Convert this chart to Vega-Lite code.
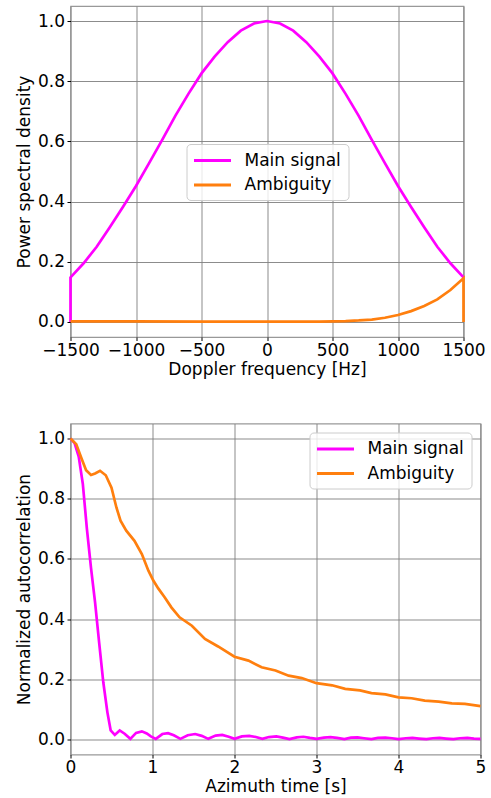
{
  "$schema": "https://vega.github.io/schema/vega-lite/v6.json",
  "padding": {"left": 14.5, "top": 5, "right": 5, "bottom": 2},
  "background": "white",
  "spacing": 44.5,
  "datasets": {
    "psd": [
      {"series": "Main signal", "i": 0, "f": -1500, "v": 0.0},
      {"series": "Main signal", "i": 1, "f": -1500, "v": 0.148},
      {"series": "Main signal", "i": 2, "f": -1400, "v": 0.195},
      {"series": "Main signal", "i": 3, "f": -1300, "v": 0.25},
      {"series": "Main signal", "i": 4, "f": -1200, "v": 0.315},
      {"series": "Main signal", "i": 5, "f": -1100, "v": 0.382},
      {"series": "Main signal", "i": 6, "f": -1000, "v": 0.452},
      {"series": "Main signal", "i": 7, "f": -900, "v": 0.528},
      {"series": "Main signal", "i": 8, "f": -800, "v": 0.605},
      {"series": "Main signal", "i": 9, "f": -700, "v": 0.685},
      {"series": "Main signal", "i": 10, "f": -600, "v": 0.758},
      {"series": "Main signal", "i": 11, "f": -500, "v": 0.826},
      {"series": "Main signal", "i": 12, "f": -400, "v": 0.882},
      {"series": "Main signal", "i": 13, "f": -300, "v": 0.93},
      {"series": "Main signal", "i": 14, "f": -200, "v": 0.968},
      {"series": "Main signal", "i": 15, "f": -100, "v": 0.992},
      {"series": "Main signal", "i": 16, "f": 0, "v": 1.0},
      {"series": "Main signal", "i": 17, "f": 100, "v": 0.992},
      {"series": "Main signal", "i": 18, "f": 200, "v": 0.968},
      {"series": "Main signal", "i": 19, "f": 300, "v": 0.93},
      {"series": "Main signal", "i": 20, "f": 400, "v": 0.882},
      {"series": "Main signal", "i": 21, "f": 500, "v": 0.826},
      {"series": "Main signal", "i": 22, "f": 600, "v": 0.758},
      {"series": "Main signal", "i": 23, "f": 700, "v": 0.685},
      {"series": "Main signal", "i": 24, "f": 800, "v": 0.605},
      {"series": "Main signal", "i": 25, "f": 900, "v": 0.528},
      {"series": "Main signal", "i": 26, "f": 1000, "v": 0.452},
      {"series": "Main signal", "i": 27, "f": 1100, "v": 0.382},
      {"series": "Main signal", "i": 28, "f": 1200, "v": 0.315},
      {"series": "Main signal", "i": 29, "f": 1300, "v": 0.25},
      {"series": "Main signal", "i": 30, "f": 1400, "v": 0.195},
      {"series": "Main signal", "i": 31, "f": 1500, "v": 0.148},
      {"series": "Ambiguity", "i": 0, "f": -1500, "v": 0.002},
      {"series": "Ambiguity", "i": 1, "f": -1000, "v": 0.002},
      {"series": "Ambiguity", "i": 2, "f": -500, "v": 0.001},
      {"series": "Ambiguity", "i": 3, "f": 0, "v": 0.001},
      {"series": "Ambiguity", "i": 4, "f": 400, "v": 0.001},
      {"series": "Ambiguity", "i": 5, "f": 500, "v": 0.002},
      {"series": "Ambiguity", "i": 6, "f": 600, "v": 0.003},
      {"series": "Ambiguity", "i": 7, "f": 700, "v": 0.005},
      {"series": "Ambiguity", "i": 8, "f": 800, "v": 0.008},
      {"series": "Ambiguity", "i": 9, "f": 900, "v": 0.014},
      {"series": "Ambiguity", "i": 10, "f": 1000, "v": 0.023},
      {"series": "Ambiguity", "i": 11, "f": 1100, "v": 0.036},
      {"series": "Ambiguity", "i": 12, "f": 1200, "v": 0.053},
      {"series": "Ambiguity", "i": 13, "f": 1300, "v": 0.075},
      {"series": "Ambiguity", "i": 14, "f": 1400, "v": 0.106},
      {"series": "Ambiguity", "i": 15, "f": 1500, "v": 0.145},
      {"series": "Ambiguity", "i": 16, "f": 1500, "v": 0.0}
    ],
    "acf": [
      {"series": "Main signal", "t": 0.0, "v": 1.0},
      {"series": "Main signal", "t": 0.05, "v": 0.985},
      {"series": "Main signal", "t": 0.1, "v": 0.94},
      {"series": "Main signal", "t": 0.15, "v": 0.85},
      {"series": "Main signal", "t": 0.2, "v": 0.7},
      {"series": "Main signal", "t": 0.25, "v": 0.57},
      {"series": "Main signal", "t": 0.3, "v": 0.455},
      {"series": "Main signal", "t": 0.35, "v": 0.32},
      {"series": "Main signal", "t": 0.4, "v": 0.19},
      {"series": "Main signal", "t": 0.45, "v": 0.09},
      {"series": "Main signal", "t": 0.49, "v": 0.03},
      {"series": "Main signal", "t": 0.54, "v": 0.015},
      {"series": "Main signal", "t": 0.6, "v": 0.03},
      {"series": "Main signal", "t": 0.66, "v": 0.019},
      {"series": "Main signal", "t": 0.73, "v": 0.002},
      {"series": "Main signal", "t": 0.8, "v": 0.022},
      {"series": "Main signal", "t": 0.87, "v": 0.027},
      {"series": "Main signal", "t": 0.93, "v": 0.02},
      {"series": "Main signal", "t": 0.98, "v": 0.01},
      {"series": "Main signal", "t": 1.04, "v": 0.002},
      {"series": "Main signal", "t": 1.12, "v": 0.018},
      {"series": "Main signal", "t": 1.19, "v": 0.021},
      {"series": "Main signal", "t": 1.26, "v": 0.014},
      {"series": "Main signal", "t": 1.34, "v": 0.002},
      {"series": "Main signal", "t": 1.43, "v": 0.014},
      {"series": "Main signal", "t": 1.52, "v": 0.018},
      {"series": "Main signal", "t": 1.6, "v": 0.012},
      {"series": "Main signal", "t": 1.68, "v": 0.002},
      {"series": "Main signal", "t": 1.77, "v": 0.013},
      {"series": "Main signal", "t": 1.85, "v": 0.015},
      {"series": "Main signal", "t": 1.93, "v": 0.009},
      {"series": "Main signal", "t": 2.0, "v": 0.002},
      {"series": "Main signal", "t": 2.09, "v": 0.01},
      {"series": "Main signal", "t": 2.18, "v": 0.012},
      {"series": "Main signal", "t": 2.26, "v": 0.008},
      {"series": "Main signal", "t": 2.34, "v": 0.002},
      {"series": "Main signal", "t": 2.42, "v": 0.008},
      {"series": "Main signal", "t": 2.51, "v": 0.01},
      {"series": "Main signal", "t": 2.59, "v": 0.006},
      {"series": "Main signal", "t": 2.67, "v": 0.001},
      {"series": "Main signal", "t": 2.76, "v": 0.007},
      {"series": "Main signal", "t": 2.84, "v": 0.009},
      {"series": "Main signal", "t": 2.92, "v": 0.005},
      {"series": "Main signal", "t": 3.0, "v": 0.002},
      {"series": "Main signal", "t": 3.09, "v": 0.006},
      {"series": "Main signal", "t": 3.17, "v": 0.008},
      {"series": "Main signal", "t": 3.25, "v": 0.005},
      {"series": "Main signal", "t": 3.34, "v": 0.001},
      {"series": "Main signal", "t": 3.42, "v": 0.006},
      {"series": "Main signal", "t": 3.5, "v": 0.007},
      {"series": "Main signal", "t": 3.58, "v": 0.004},
      {"series": "Main signal", "t": 3.67, "v": 0.001},
      {"series": "Main signal", "t": 3.75, "v": 0.005},
      {"series": "Main signal", "t": 3.84, "v": 0.006},
      {"series": "Main signal", "t": 3.92, "v": 0.004},
      {"series": "Main signal", "t": 4.0, "v": 0.001},
      {"series": "Main signal", "t": 4.09, "v": 0.004},
      {"series": "Main signal", "t": 4.17, "v": 0.005},
      {"series": "Main signal", "t": 4.25, "v": 0.003},
      {"series": "Main signal", "t": 4.34, "v": 0.001},
      {"series": "Main signal", "t": 4.42, "v": 0.004},
      {"series": "Main signal", "t": 4.5, "v": 0.005},
      {"series": "Main signal", "t": 4.58, "v": 0.003},
      {"series": "Main signal", "t": 4.67, "v": 0.001},
      {"series": "Main signal", "t": 4.75, "v": 0.004},
      {"series": "Main signal", "t": 4.84, "v": 0.005},
      {"series": "Main signal", "t": 4.92, "v": 0.003},
      {"series": "Main signal", "t": 5.0, "v": 0.002},
      {"series": "Ambiguity", "t": 0.0, "v": 1.0},
      {"series": "Ambiguity", "t": 0.07, "v": 0.981},
      {"series": "Ambiguity", "t": 0.13, "v": 0.937},
      {"series": "Ambiguity", "t": 0.19, "v": 0.895},
      {"series": "Ambiguity", "t": 0.25, "v": 0.879},
      {"series": "Ambiguity", "t": 0.3, "v": 0.884},
      {"series": "Ambiguity", "t": 0.36, "v": 0.893},
      {"series": "Ambiguity", "t": 0.43, "v": 0.878},
      {"series": "Ambiguity", "t": 0.5, "v": 0.837},
      {"series": "Ambiguity", "t": 0.56, "v": 0.771},
      {"series": "Ambiguity", "t": 0.61, "v": 0.727},
      {"series": "Ambiguity", "t": 0.68, "v": 0.694},
      {"series": "Ambiguity", "t": 0.78, "v": 0.66},
      {"series": "Ambiguity", "t": 0.87, "v": 0.616},
      {"series": "Ambiguity", "t": 0.95, "v": 0.561},
      {"series": "Ambiguity", "t": 1.01, "v": 0.528},
      {"series": "Ambiguity", "t": 1.07, "v": 0.502},
      {"series": "Ambiguity", "t": 1.15, "v": 0.472},
      {"series": "Ambiguity", "t": 1.23, "v": 0.439},
      {"series": "Ambiguity", "t": 1.33, "v": 0.406},
      {"series": "Ambiguity", "t": 1.48, "v": 0.378},
      {"series": "Ambiguity", "t": 1.64, "v": 0.334},
      {"series": "Ambiguity", "t": 1.8, "v": 0.309},
      {"series": "Ambiguity", "t": 2.0, "v": 0.275},
      {"series": "Ambiguity", "t": 2.17, "v": 0.262},
      {"series": "Ambiguity", "t": 2.33, "v": 0.24},
      {"series": "Ambiguity", "t": 2.5, "v": 0.229},
      {"series": "Ambiguity", "t": 2.66, "v": 0.212},
      {"series": "Ambiguity", "t": 2.82, "v": 0.204},
      {"series": "Ambiguity", "t": 3.0, "v": 0.187},
      {"series": "Ambiguity", "t": 3.19, "v": 0.18},
      {"series": "Ambiguity", "t": 3.35, "v": 0.168},
      {"series": "Ambiguity", "t": 3.53, "v": 0.163},
      {"series": "Ambiguity", "t": 3.67, "v": 0.154},
      {"series": "Ambiguity", "t": 3.84, "v": 0.15},
      {"series": "Ambiguity", "t": 4.0, "v": 0.14},
      {"series": "Ambiguity", "t": 4.16, "v": 0.137},
      {"series": "Ambiguity", "t": 4.32, "v": 0.129},
      {"series": "Ambiguity", "t": 4.49, "v": 0.126},
      {"series": "Ambiguity", "t": 4.65, "v": 0.12},
      {"series": "Ambiguity", "t": 4.81, "v": 0.118},
      {"series": "Ambiguity", "t": 5.0, "v": 0.111}
    ]
  },
  "config": {
    "font": "DejaVu Sans",
    "view": {"stroke": "#999999", "strokeWidth": 1.2},
    "axis": {
      "domain": false,
      "grid": true,
      "gridColor": "#808080",
      "gridWidth": 1,
      "gridOpacity": 0.9,
      "tickColor": "#000000",
      "tickSize": 3.5,
      "tickWidth": 1,
      "labelFont": "DejaVu Sans",
      "labelFontSize": 17,
      "labelColor": "#000000",
      "labelPadding": 2.5,
      "titleFont": "DejaVu Sans",
      "titleFontSize": 17,
      "titleFontWeight": "normal",
      "titleColor": "#000000",
      "labelFlush": false,
      "labelOverlap": false
    },
    "axisX": {"labelPadding": 1.5, "titlePadding": 3},
    "axisY": {"titlePadding": 4},
    "legend": {
      "labelFont": "DejaVu Sans",
      "labelFontSize": 17,
      "labelColor": "#000000",
      "symbolType": "M-1.125,0H3.5",
      "symbolSize": 256,
      "symbolStrokeWidth": 3,
      "symbolFillColor": "transparent",
      "labelOffset": 32,
      "rowPadding": 6.5,
      "padding": 7,
      "fillColor": "rgba(255,255,255,0.8)",
      "strokeColor": "#cccccc",
      "cornerRadius": 4,
      "title": null
    }
  },
  "resolve": {"legend": {"color": "independent"}},
  "vconcat": [
    {
      "width": 393,
      "height": 331,
      "data": {"name": "psd"},
      "mark": {"type": "line", "strokeWidth": 2.7, "clip": false},
      "encoding": {
        "x": {"field": "f", "type": "quantitative", "title": "Doppler frequency [Hz]",
              "scale": {"domain": [-1500, 1500], "nice": false, "zero": false},
              "axis": {"values": [-1500, -1000, -500, 0, 500, 1000, 1500], "format": "d"}},
        "y": {"field": "v", "type": "quantitative", "title": "Power spectral density",
              "scale": {"domain": [-0.05, 1.05], "nice": false, "zero": false},
              "axis": {"values": [0, 0.2, 0.4, 0.6, 0.8, 1.0], "format": ".1f"}},
        "color": {"field": "series", "type": "nominal",
                  "scale": {"domain": ["Main signal", "Ambiguity"], "range": ["#ff00ff", "#ff7f0e"]},
                  "legend": {"orient": "none", "legendX": 116, "legendY": 138}},
        "order": {"field": "i", "type": "quantitative"}
      }
    },
    {
      "width": 410,
      "height": 331,
      "data": {"name": "acf"},
      "mark": {"type": "line", "strokeWidth": 2.7, "clip": false},
      "encoding": {
        "x": {"field": "t", "type": "quantitative", "title": "Azimuth time [s]",
              "scale": {"domain": [0, 5], "nice": false},
              "axis": {"values": [0, 1, 2, 3, 4, 5], "format": "d"}},
        "y": {"field": "v", "type": "quantitative", "title": "Normalized autocorrelation",
              "scale": {"domain": [-0.05, 1.05], "nice": false, "zero": false},
              "axis": {"values": [0, 0.2, 0.4, 0.6, 0.8, 1.0], "format": ".1f"}},
        "color": {"field": "series", "type": "nominal",
                  "scale": {"domain": ["Main signal", "Ambiguity"], "range": ["#ff00ff", "#ff7f0e"]},
                  "legend": {"orient": "top-right", "offset": 9}},
        "order": {"field": "t", "type": "quantitative"}
      }
    }
  ]
}
